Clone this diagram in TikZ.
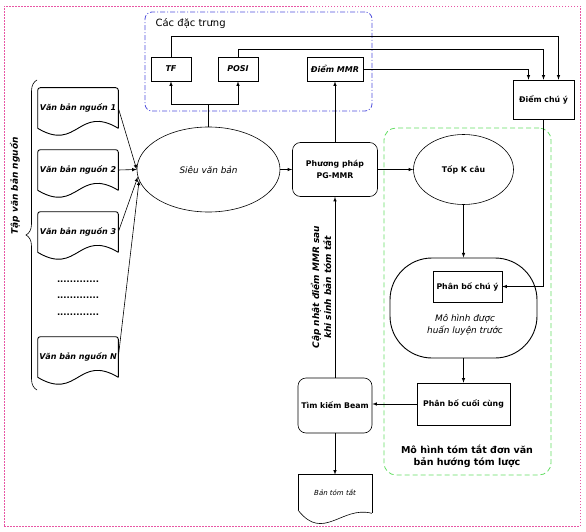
\documentclass[tikz,border=0pt]{standalone}
\usepackage{fontspec}
\setmainfont{DejaVu Sans}
\usetikzlibrary{shapes}
\usetikzlibrary{arrows}
\usetikzlibrary{decorations.pathreplacing}

\definecolor{framepink}{RGB}{232,86,164}
\definecolor{featblue}{RGB}{80,80,220}
\definecolor{modelgreen}{RGB}{100,222,100}

\begin{document}
\begin{tikzpicture}[x=1pt,y=-1pt,>=latex,line width=0.6pt]
\tikzstyle{box}=[rectangle,draw,inner sep=1pt,align=center,
font=\fontsize{7.8}{11.5}\selectfont\bfseries]
\tikzstyle{rbox}=[box,rounded corners=8pt]
\tikzstyle{feature}=[box,minimum height=24pt,
font=\fontsize{8}{10}\selectfont\bfseries\itshape]
\tikzstyle{docu}=[rectangle,minimum width=80pt,minimum height=40pt,inner sep=0pt,
font=\fontsize{8}{10}\selectfont\bfseries\itshape]
\tikzstyle{slant}=[font=\fontsize{8.9}{12}\selectfont\itshape,align=center]
\tikzstyle{dotrow}=[inner sep=0pt,font=\fontsize{8.5}{10}\selectfont\bfseries]
\useasboundingbox (0,0) rectangle (586,532);

% frames
\node[draw=framepink,line width=0.7pt,dash pattern=on 1.5pt off 1.5pt,minimum width=576pt,
minimum height=520pt] (frame) at (292,266) {};
\node[draw=featblue,line width=0.8pt,dash pattern=on 5pt off 2pt on 1pt off 2pt,rounded corners=7pt,
minimum width=227pt,minimum height=99pt] (feat) at (258.5,61.5) {};
\node[anchor=west,font=\fontsize{10}{12}\selectfont] (featlbl) at (152,24) {Các đặc trưng};
\node[draw=modelgreen,line width=0.8pt,dash pattern=on 5pt off 3pt,rounded corners=12pt,
minimum width=167pt,minimum height=347pt] (summ) at (467.5,301.5) {};
\node[align=center,font=\fontsize{9.5}{12}\selectfont\bfseries] (summlbl) at (467,456)
{Mô hình tóm tắt đơn văn\\bản hướng tóm lược};

% source documents
\foreach \i/\y/\txt in {1/108/1,2/170/2,3/232/3,n/357/N} {
\node[docu] (d\i) at (78,\y) {Văn bản nguồn \txt};
\draw[line width=0.9pt,rounded corners=2.5pt] (d\i.south west) -- (d\i.north west)
-- (d\i.north east) -- (d\i.south east);
\draw[line width=0.9pt] (d\i.south west) .. controls +(40,24) and +(-40,-24) .. (d\i.south east);
}
\foreach \k/\y in {1/282,2/298,3/315}
\node[dotrow] (dots\k) at (78,\y) {.............};
\draw[decorate,decoration={brace,amplitude=11pt}] (37,390) -- (37,80);
\node[rotate=90,anchor=west,font=\fontsize{9}{11}\selectfont\bfseries\itshape]
(setlbl) at (15,238) {Tập văn bản nguồn};

% main nodes
\node[ellipse,draw,minimum width=143pt,minimum height=85pt,inner sep=0pt,slant]
(sieu) at (208.5,169.5) {Siêu văn bản};
\node[feature,minimum width=40pt] (tf) at (171,69) {TF};
\node[feature,minimum width=40pt] (posi) at (238,69) {POSI};
\node[feature,minimum width=56pt] (mmr) at (335,69) {Điểm MMR};
\node[box,minimum width=61pt,minimum height=39pt] (attn) at (543.5,99.5) {Điểm chú ý};
\node[rbox,minimum width=85pt,minimum height=54pt] (pgmmr) at (335,169.5)
{Phương pháp\\PG-MMR};
\node[ellipse,draw,minimum width=100pt,minimum height=70pt,inner sep=0pt,
font=\fontsize{7.8}{10}\selectfont\bfseries] (topk) at (463.5,169.5) {Tốp K câu};
\node[draw,line width=0.9pt,rounded corners=42pt,minimum width=147pt,
minimum height=100pt] (model) at (463.5,308) {};
\node[box,minimum width=69pt,minimum height=31pt] (pbcy) at (467.5,286.5) {Phân bố chú ý};
\node[slant] (modeltxt) at (465,325) {Mô hình được\\huấn luyện trước};
\node[box,minimum width=93pt,minimum height=42pt] (pbcc) at (463.5,404) {Phân bố cuối cùng};
\node[rbox,minimum width=74pt,minimum height=55pt] (beam) at (335,405.5) {Tìm kiếm Beam};
\node[rectangle,minimum width=73pt,minimum height=35pt,inner sep=0pt,
font=\fontsize{7}{9}\selectfont\itshape] (tomtat) at (335,492.5) {Bản tóm tắt};
\draw (tomtat.south west) -- (tomtat.north west) -- (tomtat.north east)
-- ([yshift=-3pt]tomtat.south east);
\draw (tomtat.south west) .. controls +(25,32) and +(-30,-8) .. ([yshift=-3pt]tomtat.south east);

% connectors
\foreach \i in {1,2} \draw[->] (d\i.east) -- (sieu.west);
\draw[->] (d3.east) -- (sieu.186);
\draw[->] (dn.east) -- (sieu.189);
\coordinate (fork) at (208.5,104);
\draw (sieu.north) -- (fork);
\draw[->] (fork) -| (tf.south);
\draw[->] (fork) -| (posi.south);
\draw[->] (tf.north) -- ++(0,-20) -| ([xshift=15pt]attn.north);
\draw[->] (posi.north) -- ++(0,-7) -| (attn.north);
\draw[->] (mmr.east) -| ([xshift=-15pt]attn.north);
\draw[->] (sieu.east) -- (pgmmr.west);
\draw[->] (pgmmr.north) -- (mmr.south);
\draw[->] (pgmmr.east) -- (topk.west);
\draw[->] (topk.south) -- (model.north);
\draw[->] (attn.south) |- (pbcy.east);
\draw[->] (model.south) -- (pbcc.north);
\draw[->] (pbcc.west) -- (pbcc.west -| beam.east);
\draw[->] (beam.north) -- node[midway,sloped,above,align=center,
font=\fontsize{9}{12}\selectfont\bfseries\itshape]
{Cập nhật điểm MMR sau\\khi sinh bản tóm tắt} (pgmmr.south);
\draw[->] (beam.south) -- (tomtat.north);
\end{tikzpicture}
\end{document}
